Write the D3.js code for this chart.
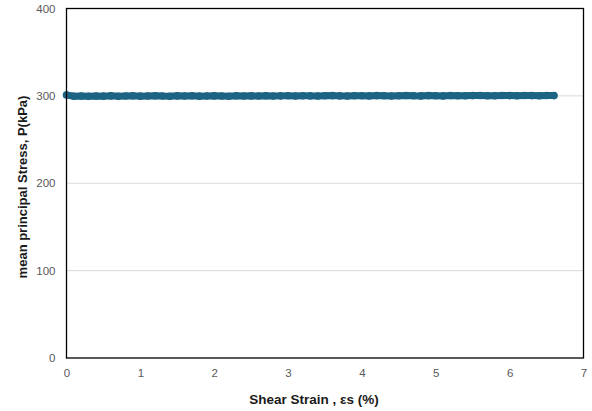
<!DOCTYPE html>
<html><head><meta charset="utf-8">
<script src="https://cdn.jsdelivr.net/npm/d3@7"></script>
<style>body{margin:0;background:#fff;} svg{display:block;font-family:"Liberation Sans",Arial,sans-serif;}</style>
</head><body>
<svg id="c" width="592" height="411"></svg>
<script>
const xTicks = [0,1,2,3,4,5,6,7];
const yTicks = [0,100,200,300,400];
const strain = [0,0.1,0.2,0.3,0.4,0.5,0.6,0.7,0.8,0.9,1.0,1.1,1.2,1.3,1.4,1.5,1.6,1.7,1.8,1.9,2.0,2.1,2.2,2.3,2.4,2.5,2.6,2.7,2.8,2.9,3.0,3.1,3.2,3.3,3.4,3.5,3.6,3.7,3.8,3.9,4.0,4.1,4.2,4.3,4.4,4.5,4.6,4.7,4.8,4.9,5.0,5.1,5.2,5.3,5.4,5.5,5.6,5.7,5.8,5.9,6.0,6.1,6.2,6.3,6.4,6.5,6.6];
const stress = [301.0,299.6,299.8,299.5,299.9,299.7,300.0,299.6,299.8,300.1,299.7,299.9,300.2,299.8,299.6,300.0,299.9,300.1,299.7,299.8,300.0,299.9,299.6,300.1,299.8,300.0,299.9,300.2,299.8,300.0,300.1,299.9,300.2,300.0,299.8,300.1,300.3,300.0,299.9,300.2,300.1,300.0,300.3,300.1,299.9,300.2,300.4,300.1,300.0,300.3,300.2,300.0,300.4,300.2,300.1,300.3,300.5,300.2,300.1,300.4,300.3,300.2,300.5,300.3,300.2,300.4,300.3];

const svg = d3.select("#c");
const m = {l:66.5, t:8.5, r:583.5, b:358};
const x = d3.scaleLinear().domain([0,7]).range([m.l, m.r]);
const y = d3.scaleLinear().domain([0,400]).range([m.b, m.t]);
const col = "#1d6383";

// gridlines
svg.append("g").selectAll("line").data(yTicks.filter(d=>d>0 && d<400)).join("line")
  .attr("x1", m.l).attr("x2", m.r).attr("y1", d=>y(d)).attr("y2", d=>y(d))
  .attr("stroke", "#d9d9d9").attr("stroke-width", 1);

// data
const pts = strain.map((s,i)=>[s, stress[i]]);
svg.append("path").datum(pts)
  .attr("d", d3.line().x(d=>x(d[0])).y(d=>y(d[1])))
  .attr("fill","none").attr("stroke", col).attr("stroke-width", 7).attr("stroke-linecap","round");
svg.append("g").selectAll("circle").data(pts).join("circle")
  .attr("cx", d=>x(d[0])).attr("cy", d=>y(d[1])).attr("r", 3.8).attr("fill", col);

// frame
svg.append("rect").attr("x", m.l).attr("y", m.t).attr("width", m.r-m.l).attr("height", m.b-m.t)
  .attr("fill","none").attr("stroke","#000").attr("stroke-width",1.3);

const xa = svg.append("g").attr("transform", `translate(0,${m.b})`)
  .call(d3.axisBottom(x).tickValues(xTicks).tickSize(0).tickPadding(11).tickFormat(d3.format("d")));
xa.select(".domain").remove();
xa.selectAll("text").attr("font-size", 11.5).attr("fill", "#595959").attr("font-family","Liberation Sans, Arial, sans-serif");

const ya = svg.append("g").attr("transform", `translate(${m.l},0)`)
  .call(d3.axisLeft(y).tickValues(yTicks).tickSize(0).tickPadding(11).tickFormat(d3.format("d")));
ya.select(".domain").remove();
ya.selectAll("text").attr("font-size", 11.5).attr("fill", "#595959").attr("font-family","Liberation Sans, Arial, sans-serif");

svg.append("text").attr("x", 314).attr("y", 404).attr("text-anchor","middle")
  .attr("font-size", 13.5).attr("font-weight","bold").attr("fill","#1a1a1a")
  .text("Shear Strain , εs (%)");
svg.append("text").attr("transform", `translate(27,187) rotate(-90)`).attr("text-anchor","middle")
  .attr("font-size", 13).attr("font-weight","bold").attr("fill","#1a1a1a")
  .text("mean principal Stress, P(kPa)");
</script>
</body></html>
